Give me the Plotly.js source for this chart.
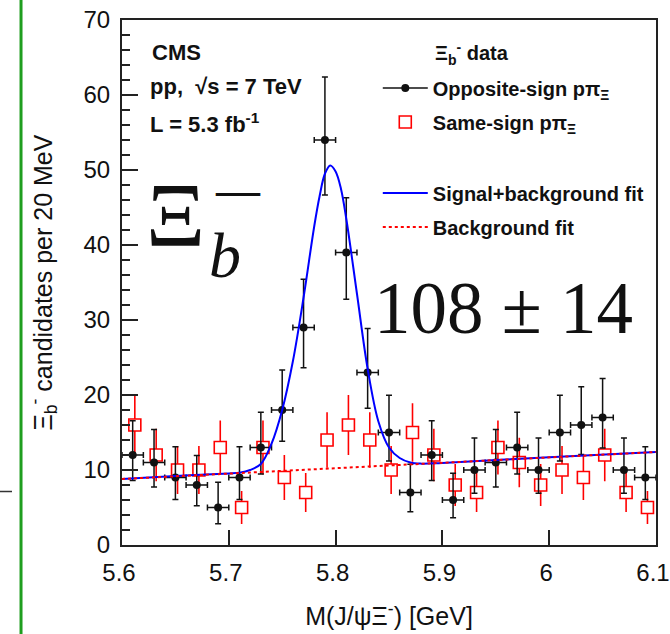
<!DOCTYPE html>
<html>
<head>
<meta charset="utf-8">
<script src="https://cdn.plot.ly/plotly-3.0.1.min.js"></script>
<style>html,body{margin:0;padding:0;background:#fff;}#chart{width:670px;height:634px;}</style>
</head>
<body>
<div id="chart"></div>
<script>
// Bin centres (20 MeV bins), GeV
const binCenters = [5.61,5.63,5.65,5.67,5.69,5.71,5.73,5.75,5.77,5.79,5.81,5.83,5.85,5.87,5.89,5.91,5.93,5.95,5.97,5.99,6.01,6.03,6.05,6.07,6.09];
// Opposite-sign p pi candidates per bin
const oppositeSign = [12,11,9,8,5,9,13,18,29,54,39,23,15,7,12,6,10,11,13,10,15,16,17,10,9];
const oppositeErrUp = [4.56,4.41,4.11,3.94,3.38,4.11,4.70,5.33,6.45,8.40,7.30,5.87,4.96,3.77,4.56,3.58,4.26,4.41,4.70,4.26,4.96,5.09,5.21,4.26,4.11];
const oppositeErrDown = [3.40,3.26,2.94,2.77,2.16,2.94,3.54,4.17,5.37,7.33,6.22,4.77,3.80,2.58,3.40,2.38,3.11,3.26,3.54,3.11,3.80,3.93,4.05,3.11,2.94];
const binHalfWidth = [0.01,0.01,0.01,0.01,0.01,0.01,0.01,0.01,0.01,0.01,0.01,0.01,0.01,0.01,0.01,0.01,0.01,0.01,0.01,0.01,0.01,0.01,0.01,0.01,0.01];
// Same-sign p pi candidates per bin
const sameSign = [16,12,10,10,13,5,13,9,7,14,16,14,10,15,12,8,7,13,11,8,10,9,12,7,5];
const sameErr = [4.0,3.5,3.2,3.2,3.6,2.2,3.6,3.0,2.6,3.7,4.0,3.7,3.2,3.9,3.5,2.8,2.6,3.6,3.3,2.8,3.2,3.0,3.5,2.6,2.2];
const sameSignShift = 0.002;
// Signal+background fit curve
const fitX = [5.60,5.65,5.70,5.71,5.72,5.73,5.74,5.75,5.76,5.77,5.78,5.785,5.79,5.795,5.80,5.805,5.81,5.82,5.83,5.84,5.85,5.86,5.87,5.88,5.90,6.00,6.10];
const fitY = [8.8,9.2,9.55,9.65,10.0,10.8,13.5,18.0,24.5,33.0,42.5,46.5,49.5,50.6,49.8,47.5,43.5,33.5,23.5,16.5,13.0,11.6,11.0,10.85,10.95,11.7,12.4];
// Background fit
const bgX = [5.60,6.10];
const bgY = [8.8,12.4];
// Axis tick labels
const xTickVals = [5.6,5.7,5.8,5.9,6.0,6.1];
const xTickText = ['5.6','5.7','5.8','5.9','6','6.1'];
const yTickVals = [0,10,20,30,40,50,60,70];

const ink = '#111111';

const traces = [
  {
    x: binCenters.map(v => v + sameSignShift), y: sameSign,
    type: 'scatter', mode: 'markers',
    name: '<b>Same-sign pπ<sub>Ξ</sub></b>', legend: 'legend', legendgroup: 'ss', legendrank: 2,
    marker: {symbol: 'square', size: 12, color: '#ffffff', line: {color: '#ff0000', width: 1.6}},
    error_y: {type: 'data', array: sameErr, visible: true, color: '#ff0000', thickness: 1.6, width: 0}
  },
  {
    x: binCenters, y: oppositeSign,
    type: 'scatter', mode: 'markers', showlegend: false,
    marker: {symbol: 'circle', size: 8, color: ink},
    error_y: {type: 'data', symmetric: false, array: oppositeErrUp, arrayminus: oppositeErrDown, visible: true, color: ink, thickness: 1.5, width: 3},
    error_x: {type: 'data', array: binHalfWidth, visible: true, color: ink, thickness: 1.5, width: 3}
  },
  {
    x: [null], y: [null],
    type: 'scatter', mode: 'lines+markers',
    name: '<b>Opposite-sign pπ<sub>Ξ</sub></b>', legend: 'legend', legendgroup: 'os', legendrank: 1,
    line: {color: ink, width: 1.5},
    marker: {symbol: 'circle', size: 8, color: ink}
  },
  {
    x: fitX, y: fitY,
    type: 'scatter', mode: 'lines',
    name: '<b>Signal+background fit</b>', legend: 'legend2', legendgroup: 'sb', legendrank: 3,
    line: {color: '#0000ff', width: 2, shape: 'spline', smoothing: 1}
  },
  {
    x: bgX, y: bgY,
    type: 'scatter', mode: 'lines',
    name: '<b>Background fit</b>', legend: 'legend2', legendgroup: 'bg', legendrank: 4,
    line: {color: '#ff0000', width: 2, dash: '3px,3px'}
  }
];

const serif = 'Liberation Serif, DejaVu Serif, serif';
const sans = 'Liberation Sans, Arial, sans-serif';

const layout = {
  width: 670, height: 634,
  margin: {l: 122, r: 14, t: 20, b: 89, pad: 0},
  paper_bgcolor: '#ffffff', plot_bgcolor: '#ffffff',
  font: {family: sans, color: ink},
  xaxis: {
    range: [5.6, 6.1], tickmode: 'array', tickvals: xTickVals, ticktext: xTickText,
    ticks: 'inside', ticklen: 15, tickwidth: 2, tickcolor: '#222',
    showline: true, linewidth: 2, linecolor: '#222', mirror: true,
    showgrid: false, zeroline: false,
    tickfont: {size: 24, color: ink}, ticklabelstandoff: 5, ticklabelshift: -3, ticklabeloverflow: 'allow',
    automargin: false,
    title: {text: 'M(J/ψΞ<sup>-</sup>) [GeV]', font: {size: 25, color: ink}, standoff: 23}
  },
  yaxis: {
    range: [0, 70], tickmode: 'array', tickvals: yTickVals,
    ticks: 'inside', ticklen: 16, tickwidth: 2, tickcolor: '#222',
    minor: {dtick: 2, ticks: 'inside', ticklen: 8, tickwidth: 1.5, tickcolor: '#222'},
    showline: true, linewidth: 2, linecolor: '#222', mirror: true,
    showgrid: false, zeroline: false,
    tickfont: {size: 24, color: ink}, ticklabelstandoff: 5, ticklabeloverflow: 'allow',
    automargin: false,
    title: {text: 'Ξ<sub>b</sub><sup>-</sup> candidates per 20 MeV', font: {size: 25, color: ink}, standoff: 24}
  },
  showlegend: true,
  legend: {
    x: 0.479, y: 0.9076, xanchor: 'left', yanchor: 'top',
    bgcolor: 'rgba(0,0,0,0)', borderwidth: 0,
    font: {size: 20, color: ink, family: sans},
    itemwidth: 45, tracegroupgap: 5, traceorder: 'grouped'
  },
  legend2: {
    x: 0.479, y: 0.7076, xanchor: 'left', yanchor: 'top',
    bgcolor: 'rgba(0,0,0,0)', borderwidth: 0,
    font: {size: 20, color: ink, family: sans},
    itemwidth: 45, tracegroupgap: 5, traceorder: 'grouped'
  },
  annotations: [
    {xref: 'paper', yref: 'paper', x: 0.0524, y: 0.939, xanchor: 'left', yanchor: 'middle', showarrow: false,
     text: '<b>CMS</b>', font: {size: 22, color: ink, family: sans}},
    {xref: 'paper', yref: 'paper', x: 0.0487, y: 0.8724, xanchor: 'left', yanchor: 'middle', showarrow: false,
     text: '<b>pp,  √s = 7 TeV</b>', font: {size: 22, color: ink, family: sans}},
    {xref: 'paper', yref: 'paper', x: 0.0487, y: 0.8038, xanchor: 'left', yanchor: 'middle', showarrow: false,
     text: '<b>L = 5.3 fb<sup>-1</sup></b>', font: {size: 22, color: ink, family: sans}},
    {xref: 'paper', yref: 'paper', x: 0.5824, y: 0.937, xanchor: 'left', yanchor: 'middle', showarrow: false,
     text: '<b>Ξ<sub>b</sub><sup>-</sup> data</b>', font: {size: 20, color: ink, family: sans}},
    {xref: 'paper', yref: 'paper', x: 0.1002, y: 0.6295, xanchor: 'center', yanchor: 'middle', showarrow: false,
     text: 'Ξ', font: {size: 92, color: ink, family: serif}},
    {xref: 'paper', yref: 'paper', x: 0.193, y: 0.552, xanchor: 'center', yanchor: 'middle', showarrow: false,
     text: '<i>b</i>', font: {size: 64, color: ink, family: serif}},
    {xref: 'paper', yref: 'paper', x: 0.2172, y: 0.6745, xanchor: 'center', yanchor: 'middle', showarrow: false,
     text: '<b>—</b>', font: {size: 44, color: ink, family: serif}},
    {xref: 'paper', yref: 'paper', x: 0.7135, y: 0.4514, xanchor: 'center', yanchor: 'middle', showarrow: false,
     text: '108 ± 14', font: {size: 73, color: ink, family: serif}}
  ],
  shapes: [
    {type: 'line', xref: 'paper', yref: 'paper', x0: -0.1891, x1: -0.1891, y0: -0.1695, y1: 1.0381,
     line: {color: '#1f9e1f', width: 3}},
    {type: 'line', xref: 'paper', yref: 'paper', x0: -0.2285, x1: -0.206, y0: 0.1019, y1: 0.1019,
     line: {color: '#333333', width: 1.5}}
  ]
};

Plotly.newPlot('chart', traces, layout, {displayModeBar: false, staticPlot: true});
</script>
</body>
</html>
